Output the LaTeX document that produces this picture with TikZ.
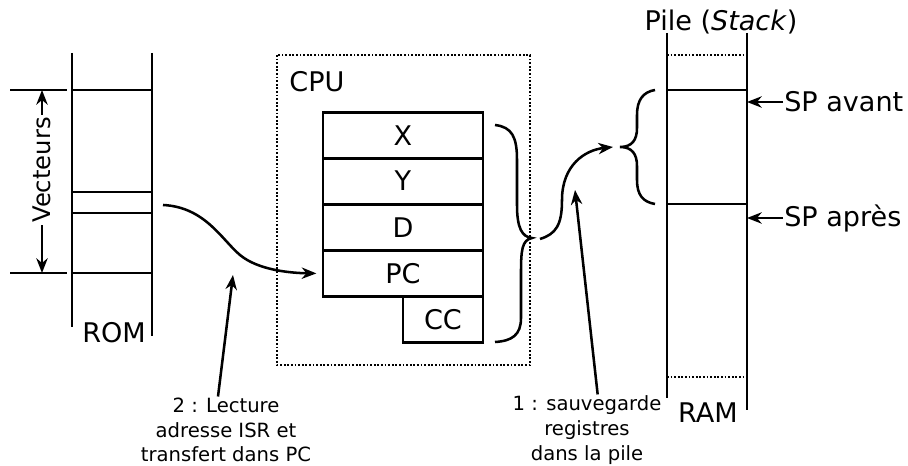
\documentclass[tikz,border=0pt]{standalone}
\usepackage{fontspec}
\setmainfont{DejaVu Sans}
\usetikzlibrary{arrows.meta}
\begin{document}
\begin{tikzpicture}[x=0.75pt,y=-0.75pt, line width=1.9pt,
  big/.style={font=\fontsize{20.3}{24}\selectfont, inner sep=0pt},
  small/.style={font=\fontsize{14.7}{18.6}\selectfont, align=center, inner sep=0pt},
  reg/.style={draw, minimum width=120pt, minimum height=34.5pt, inner sep=0pt, big},
  arr/.style={-{Stealth[length=11pt,width=8.5pt,inset=3.5pt]}},
  dots/.style={line width=1.6pt, dash pattern=on 1.4pt off 1.3pt}]
\useasboundingbox (0,0) rectangle (908,466);
% ROM
\draw (72,53) -- (72,327);
\draw (152,53) -- (152,336);
\draw (10,90) -- (67,90); \draw (72,90) -- (152,90);
\draw (10,273) -- (67,273); \draw (72,273) -- (152,273);
\draw (72,192) -- (152,192);
\draw (72,213) -- (152,213);
\coordinate (vt) at (42,90);
\coordinate (vb) at (42,273);
\node[big, font=\fontsize{18.2}{22}\selectfont, rotate=90, fill=white, inner sep=1pt] (vec) at (42,170) {Vecteurs};
\draw[arr] (vec.east) -- (vt);
\draw[arr] (vec.west) -- (vb);
\node[big] (rom) at (114,333) {ROM};
% CPU
\draw[dots] (277,55) rectangle (530,365);
\node[big] (cpu) at (317,82) {CPU};
\node[reg] (X) at (403,135.5) {X};
\node[reg] (Y) at (403,181) {Y};
\node[reg] (D) at (403,227.5) {D};
\node[reg] (PC) at (403,273.5) {PC};
\node[reg, minimum width=60pt] (CC) at (443,319.5) {CC};
% ROM -> PC
\coordinate (romout) at (163,205);
\draw[arr, shorten >=4pt] (romout) .. controls (205,207) and (222,240) .. (240,255)
  .. controls (258,270) and (290,273) .. (PC.west);
\node[small] (lab2) at (226,430) {2 : Lecture\\adresse ISR et\\transfert dans PC};
\coordinate (a2) at (233,275);
\draw[arr] ([xshift=-6pt]lab2.north) -- (a2);
% CPU brace
\draw (495,125) .. controls (512,127) and (517,137) .. (517,160) -- (517,205)
  .. controls (517,228) and (522,237) .. (532,238)
  .. controls (522,240) and (521,250) .. (521,273) -- (521,318)
  .. controls (521,335) and (512,341) .. (495,342);
\coordinate (bout) at (540,239);
\coordinate (sin) at (613,147);
\draw[arr] (bout) .. controls (556,234) and (562,225) .. (562,200)
  .. controls (562,165) and (585,150) .. (sin);
\node[small] (lab1) at (587,430) {1 : sauvegarde\\registres\\dans la pile};
\coordinate (a1) at (575,190);
\draw[arr] ([xshift=8pt]lab1.north) -- (a1);
% stack brace
\draw (655,90) .. controls (643,92) and (637,100) .. (637,115) -- (637,128)
  .. controls (637,140) and (632,147) .. (620,147)
  .. controls (632,147) and (637,154) .. (637,166) -- (637,180)
  .. controls (637,195) and (643,202) .. (655,204);
% RAM
\draw (667,33) -- (667,398);
\draw (747,33) -- (747,410);
\draw (667,90) -- (747,90);
\draw (667,204) -- (747,204);
\draw[dots] (667,55) -- (747,55);
\draw[dots] (667,377) -- (747,377);
\node[big] (pile) at (721,22) {Pile (\textit{Stack})};
\node[big] (ram) at (708,413) {RAM};
\node[big, anchor=west] (spa) at (783,102) {SP avant};
\coordinate (spaT) at (747,102);
\draw[arr] (spa.west) -- (spaT);
\node[big, anchor=west] (spp) at (783,218) {SP après};
\coordinate (sppT) at (747,218);
\draw[arr] (spp.west) -- (sppT);
\end{tikzpicture}
\end{document}
